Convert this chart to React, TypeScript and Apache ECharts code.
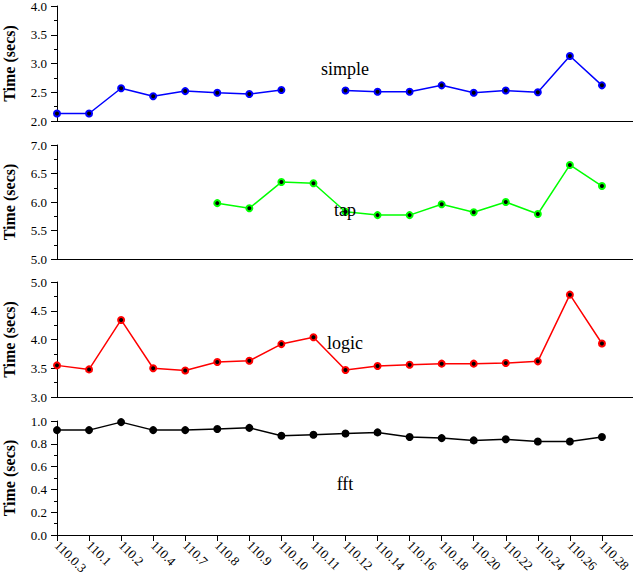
import React, { useEffect, useRef } from "react";
import * as echarts from "echarts";

const categories = [
  "110.0.3", "110.1", "110.2", "110.4", "110.7", "110.8", "110.9", "110.10", "110.11",
  "110.12", "110.14", "110.16", "110.18", "110.20", "110.22", "110.24", "110.26", "110.28",
];

const seriesNames = ["simple", "tap", "logic", "fft"];
const seriesColors = ["#0000ff", "#00ff00", "#ff0000", "#000000"];

const simpleValues = [2.13, 2.13, 2.57, 2.43, 2.52, 2.49, 2.47, 2.54, null, 2.53, 2.51, 2.51, 2.62, 2.49, 2.53, 2.5, 3.13, 2.62];
const tapValues = [null, null, null, null, null, 5.98, 5.89, 6.35, 6.33, 5.83, 5.77, 5.77, 5.96, 5.82, 6.0, 5.79, 6.65, 6.28];
const logicValues = [3.55, 3.48, 4.34, 3.5, 3.46, 3.61, 3.63, 3.92, 4.04, 3.47, 3.54, 3.56, 3.58, 3.58, 3.59, 3.62, 4.78, 3.93];
const fftValues = [0.92, 0.92, 0.99, 0.92, 0.92, 0.93, 0.94, 0.87, 0.88, 0.89, 0.9, 0.86, 0.85, 0.83, 0.84, 0.82, 0.82, 0.86];

const allValues = [simpleValues, tapValues, logicValues, fftValues];

const yMins = [2, 5, 3, 0];
const yMaxs = [4, 7, 5, 1];
const yIntervals = [0.5, 0.5, 0.5, 0.2];

const gridTops = [6, 145, 282, 421];
const gridHeights = [115, 114, 115, 114];
const labelYs = [69, 210, 343, 484];

const FONT = "'Liberation Serif', 'DejaVu Serif', serif";

export default function App() {
  const ref = useRef<HTMLDivElement>(null);

  useEffect(() => {
    if (!ref.current) return;
    const chart = echarts.init(ref.current, undefined, { renderer: "svg" });
    const xData = [...categories, ""];

    const grids = gridTops.map((t, i) => ({
      left: 57,
      top: t,
      width: 577,
      height: gridHeights[i],
      containLabel: false,
      outerBoundsMode: "none",
    }));

    const xAxes = gridTops.map((_, i) => ({
      type: "category",
      gridIndex: i,
      data: xData,
      boundaryGap: false,
      axisLine: { show: true, onZero: false, lineStyle: { color: "#000", width: 1 } },
      axisTick: {
        show: i === 3,
        alignWithLabel: true,
        length: 6,
        interval: 0,
        lineStyle: { color: "#000" },
      },
      axisLabel: {
        show: i === 3,
        interval: 0,
        rotate: -45,
        margin: 8,
        color: "#000",
        fontFamily: FONT,
        fontSize: 13,
      },
      splitLine: { show: false },
    }));

    const yAxes = gridTops.map((_, i) => ({
      type: "value",
      gridIndex: i,
      min: yMins[i],
      max: yMaxs[i],
      interval: yIntervals[i],
      name: "Time (secs)",
      nameLocation: "middle",
      nameGap: 40,
      nameTextStyle: {
        color: "#000",
        fontFamily: FONT,
        fontWeight: "bold",
        fontSize: 16,
      },
      axisLine: { show: true, lineStyle: { color: "#000", width: 1 } },
      axisTick: { show: true, length: 6, lineStyle: { color: "#000" } },
      minorTick: { show: true, splitNumber: 2, length: 3, lineStyle: { color: "#000" } },
      axisLabel: {
        color: "#000",
        fontFamily: FONT,
        fontSize: 13,
        margin: 10,
        formatter: (v: number) => v.toFixed(1),
      },
      splitLine: { show: false },
      minorSplitLine: { show: false },
    }));

    const series = allValues.map((vals, i) => ({
      name: seriesNames[i],
      type: "line",
      xAxisIndex: i,
      yAxisIndex: i,
      data: vals,
      connectNulls: false,
      symbol: "circle",
      symbolSize: 6,
      showAllSymbol: true,
      lineStyle: { color: seriesColors[i], width: 1.5 },
      itemStyle: { color: "#000", borderColor: seriesColors[i], borderWidth: 2 },
      emphasis: { disabled: true },
    }));

    const graphic = seriesNames.map((n, i) => ({
      type: "text",
      x: 345,
      y: labelYs[i],
      style: {
        text: n,
        fill: "#000",
        font: `18px ${FONT}`,
        textAlign: "center",
        textVerticalAlign: "middle",
      },
      z: 10,
    }));

    chart.setOption({
      animation: false,
      backgroundColor: "#fff",
      grid: grids,
      xAxis: xAxes,
      yAxis: yAxes,
      series,
      graphic,
    } as any);

    return () => chart.dispose();
  }, []);

  return (
    <div
      ref={ref}
      style={{ position: "fixed", left: 0, top: 0, width: 633, height: 582 }}
    />
  );
}
